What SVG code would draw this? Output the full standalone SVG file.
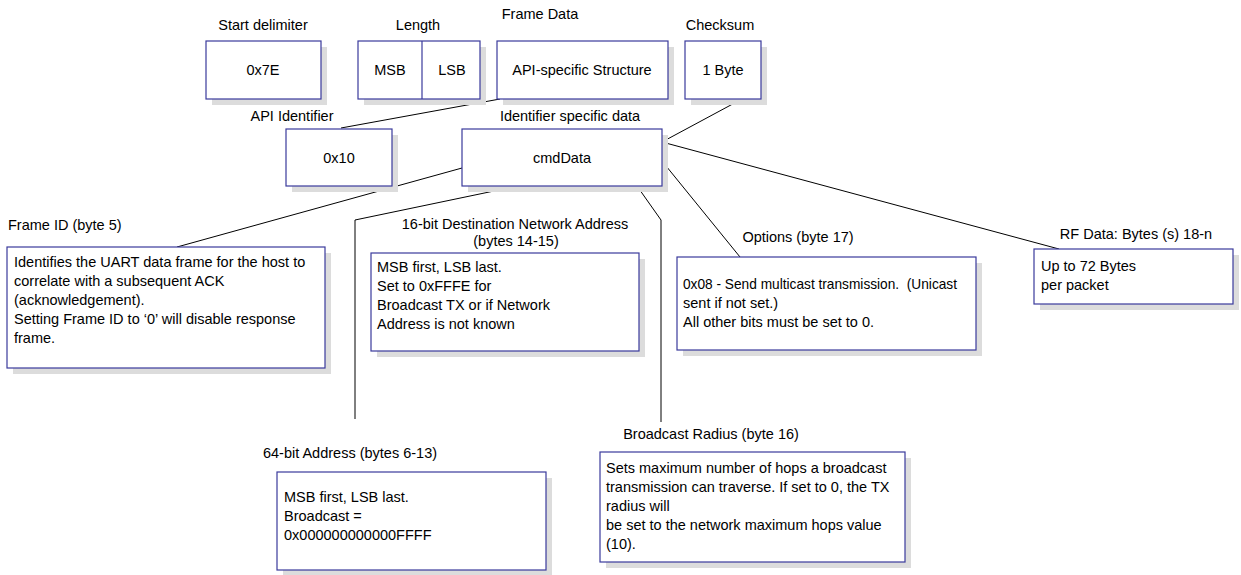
<svg xmlns="http://www.w3.org/2000/svg" width="1241" height="575" viewBox="0 0 1241 575">
<style>
text{font-family:"Liberation Sans",Arial,sans-serif;font-size:14.5px;fill:#000}
.c{text-anchor:middle}
.box{fill:#fff;stroke:#3a3a9c;stroke-width:1.2}
.sh{fill:#dcdcdc}
.ln{stroke:#000;stroke-width:1;fill:none}
</style>
<g id="connectors">
<polyline class="ln" points="500,99 341,128"/>
<polyline class="ln" points="742,99 662,142 1059,249"/>
<polyline class="ln" points="662,161 740,257"/>
<polyline class="ln" points="462,168 177,247"/>
<polyline class="ln" points="518,186 355,220 355,419"/>
<polyline class="ln" points="637,186 661,220 661,422"/>
</g>
<g id="start-delimiter">
<text class="c" x="263" y="30">Start delimiter</text>
<rect class="sh" x="212" y="47" width="115" height="58"/>
<rect class="box" x="206" y="41" width="115" height="58"/>
<text class="c" x="263" y="75">0x7E</text>
</g>
<g id="length">
<text class="c" x="418" y="30">Length</text>
<rect class="sh" x="364" y="47" width="122" height="58"/>
<rect class="box" x="358" y="41" width="122" height="58"/>
<line x1="422" y1="41" x2="422" y2="99" stroke="#3a3a9c" stroke-width="1.2"/>
<text class="c" x="390" y="75">MSB</text>
<text class="c" x="452" y="75">LSB</text>
</g>
<g id="frame-data">
<text class="c" x="540" y="19">Frame Data</text>
<rect class="sh" x="503" y="47" width="171" height="58"/>
<rect class="box" x="497" y="41" width="171" height="58"/>
<text class="c" x="582" y="75">API-specific Structure</text>
</g>
<g id="checksum">
<text class="c" x="720" y="30">Checksum</text>
<rect class="sh" x="691" y="47" width="76" height="58"/>
<rect class="box" x="685" y="41" width="76" height="58"/>
<text class="c" x="723" y="75">1 Byte</text>
</g>
<g id="api-identifier">
<text class="c" x="292" y="121">API Identifier</text>
<rect class="sh" x="292" y="135" width="106" height="57"/>
<rect class="box" x="286" y="129" width="106" height="57"/>
<text class="c" x="339" y="163">0x10</text>
</g>
<g id="identifier-data">
<text class="c" x="570" y="121">Identifier specific data</text>
<rect class="sh" x="468" y="135" width="200" height="57"/>
<rect class="box" x="462" y="129" width="200" height="57"/>
<text class="c" x="562" y="163">cmdData</text>
</g>
<g id="frame-id">
<text x="8" y="230">Frame ID (byte 5)</text>
<rect class="sh" x="13" y="253" width="318" height="121"/>
<rect class="box" x="7" y="247" width="318" height="121"/>
<text x="14" y="267">Identifies the UART data frame for the host to</text>
<text x="14" y="286">correlate with a subsequent ACK</text>
<text x="14" y="305">(acknowledgement).</text>
<text x="14" y="324">Setting Frame ID to ‘0’ will disable response</text>
<text x="14" y="343">frame.</text>
</g>
<g id="dest-address">
<text class="c" x="515" y="229">16-bit Destination Network Address</text>
<text class="c" x="516" y="246">(bytes 14-15)</text>
<rect class="sh" x="377" y="259" width="268" height="98"/>
<rect class="box" x="371" y="253" width="268" height="98"/>
<text x="377" y="272">MSB first, LSB last.</text>
<text x="377" y="291">Set to 0xFFFE for</text>
<text x="377" y="310">Broadcast TX or if Network</text>
<text x="377" y="329">Address is not known</text>
</g>
<g id="options">
<text class="c" x="798" y="242">Options (byte 17)</text>
<rect class="sh" x="683" y="263" width="299" height="93"/>
<rect class="box" x="677" y="257" width="299" height="93"/>
<text x="683" y="289" xml:space="preserve" textLength="274" lengthAdjust="spacingAndGlyphs">0x08 - Send multicast transmission.  (Unicast</text>
<text x="683" y="308">sent if not set.)</text>
<text x="683" y="327">All other bits must be set to 0.</text>
</g>
<g id="rf-data">
<text class="c" x="1136" y="239">RF Data: Bytes (s) 18-n</text>
<rect class="sh" x="1040" y="255" width="199" height="55"/>
<rect class="box" x="1034" y="249" width="199" height="55"/>
<text x="1041" y="271">Up to 72 Bytes</text>
<text x="1041" y="290">per packet</text>
</g>
<g id="address-64">
<text class="c" x="350" y="458">64-bit Address (bytes 6-13)</text>
<rect class="sh" x="283" y="478" width="269" height="98"/>
<rect class="box" x="277" y="472" width="269" height="98"/>
<text x="284" y="502">MSB first, LSB last.</text>
<text x="284" y="521">Broadcast =</text>
<text x="284" y="540">0x000000000000FFFF</text>
</g>
<g id="broadcast-radius">
<text class="c" x="711" y="439">Broadcast Radius (byte 16)</text>
<rect class="sh" x="606" y="458" width="305" height="110"/>
<rect class="box" x="600" y="452" width="305" height="110"/>
<text x="606" y="473">Sets maximum number of hops a broadcast</text>
<text x="606" y="492">transmission can traverse. If set to 0, the TX</text>
<text x="606" y="511">radius will</text>
<text x="606" y="530">be set to the network maximum hops value</text>
<text x="606" y="549">(10).</text>
</g>
</svg>
